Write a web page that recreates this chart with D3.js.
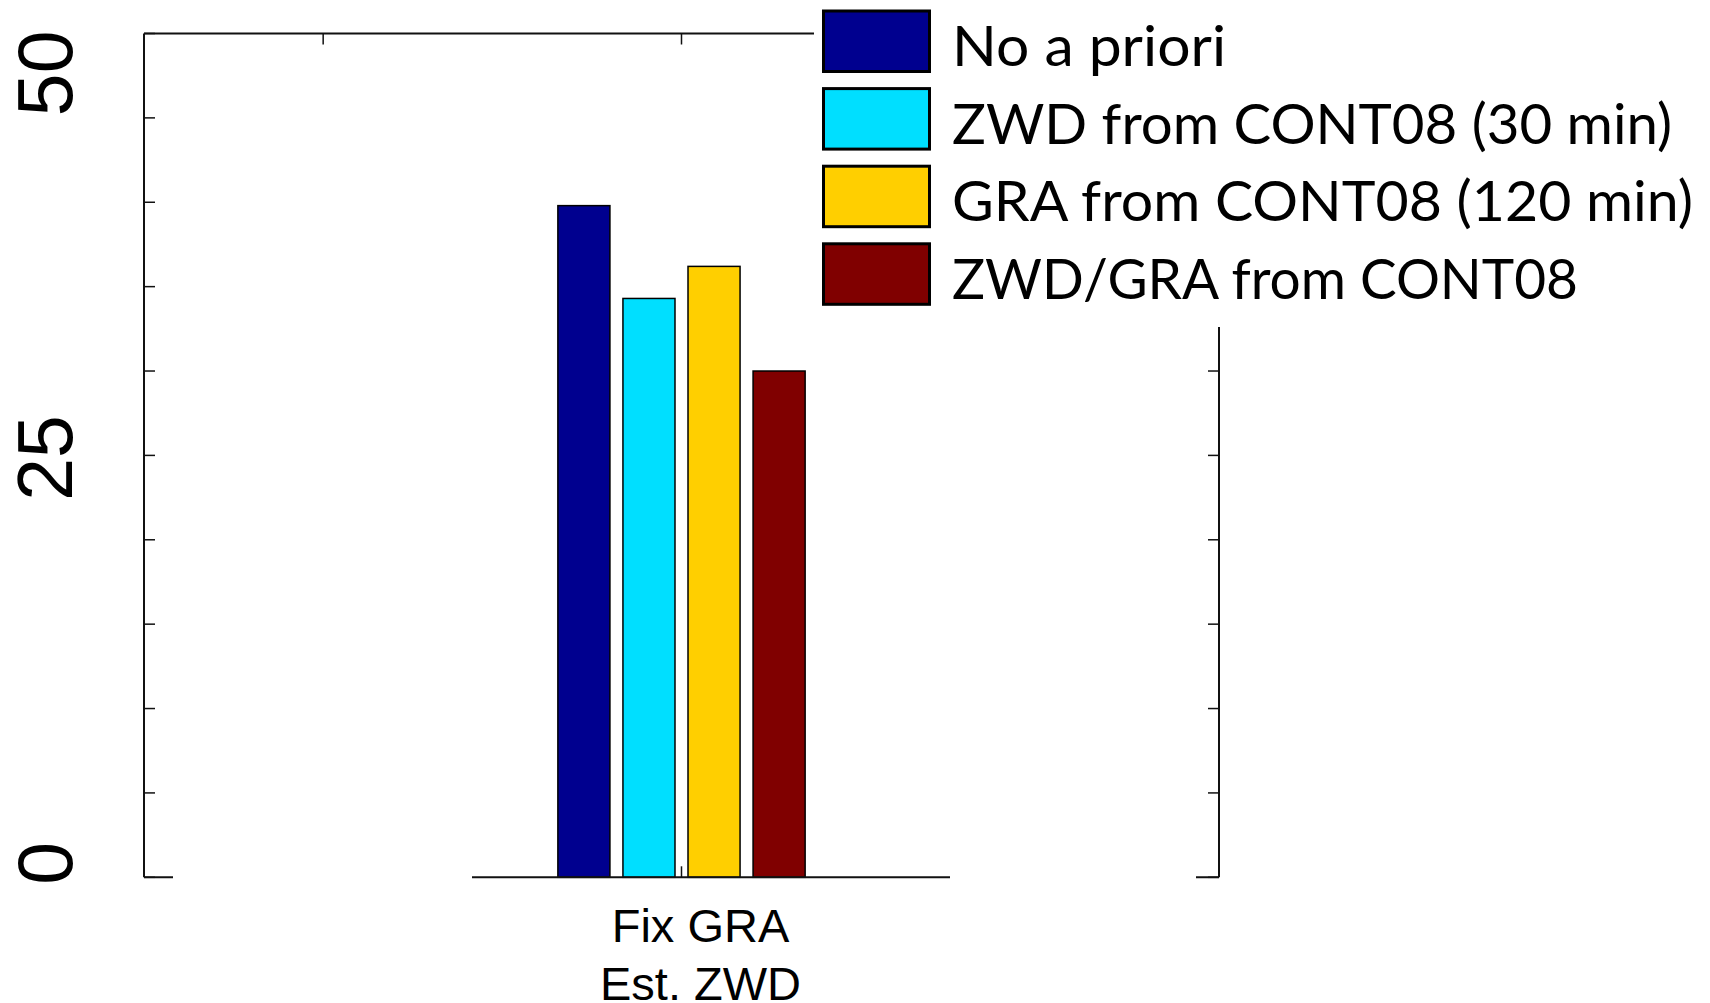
<!DOCTYPE html>
<html>
<head>
<meta charset="utf-8">
<script src="https://cdn.jsdelivr.net/npm/d3@7"></script>
<style>
  html, body { margin: 0; padding: 0; background: #fff; }
  svg { display: block; }
</style>
</head>
<body>
<svg id="chart" width="1710" height="1003"></svg>
<script>
// ---- data ----
const categoryPositions = [2];
const categoryLabels = [["Fix GRA", "Est. ZWD"]];
const seriesNames = [
  "No a priori",
  "ZWD from CONT08 (30 min)",
  "GRA from CONT08 (120 min)",
  "ZWD/GRA from CONT08"
];
const seriesValues = [
  [39.8],
  [34.3],
  [36.2],
  [30.0]
];
const seriesColors = ["#00008f", "#00dfff", "#ffcf00", "#800000"];
const xDomain = [0.5, 3.5];
const xTickValues = [1, 2, 3];
const yDomain = [0, 50];
const yTickValues = [0, 5, 10, 15, 20, 25, 30, 35, 40, 45, 50];
const yTickLabels = [0, 25, 50];

// ---- layout ----
const plot = { left: 144, right: 1219, top: 33.5, bottom: 877.3 };
const svg = d3.select("#chart");

const x = d3.scaleLinear().domain(xDomain).range([plot.left, plot.right]);
const y = d3.scaleLinear().domain(yDomain).range([plot.bottom, plot.top]);

// grouped bars: four series packed around each category position
const groupWidth = 0.69;
const inner = d3.scaleBand()
  .domain(d3.range(seriesNames.length))
  .paddingInner(0.2)
  .paddingOuter(0);

const bars = svg.append("g");
categoryPositions.forEach((pos, ci) => {
  inner.range([x(pos - groupWidth / 2), x(pos + groupWidth / 2)]);
  bars.selectAll(null)
    .data(seriesValues.map((vals, si) => ({ si, v: vals[ci] })))
    .join("rect")
    .attr("x", d => inner(d.si))
    .attr("width", inner.bandwidth())
    .attr("y", d => y(d.v))
    .attr("height", d => y(0) - y(d.v))
    .attr("fill", d => seriesColors[d.si])
    .attr("stroke", "#000")
    .attr("stroke-width", 1.5);
});

// ---- axes frame (box with inward ticks) ----
const axisColor = "#111";
const tickLen = 11;

const frame = svg.append("g").attr("fill", "none").attr("stroke", axisColor);
frame.append("line").attr("x1", plot.left).attr("x2", plot.right)
  .attr("y1", y(yDomain[1])).attr("y2", y(yDomain[1])).attr("stroke-width", 2.2);
frame.append("line").attr("x1", plot.left).attr("x2", plot.right)
  .attr("y1", y(0)).attr("y2", y(0)).attr("stroke-width", 2);
frame.append("line").attr("x1", x(xDomain[0])).attr("x2", x(xDomain[0]))
  .attr("y1", plot.top).attr("y2", plot.bottom).attr("stroke-width", 2);
frame.append("line").attr("x1", x(xDomain[1])).attr("x2", x(xDomain[1]))
  .attr("y1", plot.top).attr("y2", plot.bottom).attr("stroke-width", 2);

// y ticks on both sides
yTickValues.forEach(v => {
  frame.append("line").attr("x1", plot.left).attr("x2", plot.left + tickLen)
    .attr("y1", y(v)).attr("y2", y(v)).attr("stroke-width", 1.5);
  frame.append("line").attr("x1", plot.right - tickLen).attr("x2", plot.right)
    .attr("y1", y(v)).attr("y2", y(v)).attr("stroke-width", 1.5);
});
// x ticks top and bottom
xTickValues.forEach(v => {
  frame.append("line").attr("x1", x(v)).attr("x2", x(v))
    .attr("y1", plot.top).attr("y2", plot.top + tickLen).attr("stroke-width", 1.5);
  frame.append("line").attr("x1", x(v)).attr("x2", x(v))
    .attr("y1", plot.bottom - tickLen).attr("y2", plot.bottom).attr("stroke-width", 1.5);
});

// blank label boxes sitting over the lower axis
svg.append("rect").attr("x", 173).attr("y", 862).attr("width", 299).attr("height", 30).attr("fill", "#fff");
svg.append("rect").attr("x", 950).attr("y", 862).attr("width", 246).attr("height", 30).attr("fill", "#fff");

// ---- y tick labels (rotated) ----
const yLab = svg.append("g")
  .attr("font-family", "'Liberation Sans', Arial, sans-serif")
  .attr("font-size", 77)
  .attr("fill", "#000");
const anchorFor = v => v === yDomain[0] ? "start" : (v === yDomain[1] ? "end" : "middle");
const shiftFor = v => v === yDomain[0] ? 7.5 : (v === yDomain[1] ? -3 : 2.5);
yTickLabels.forEach(v => {
  yLab.append("text")
    .attr("transform", `translate(71.5,${y(v) + shiftFor(v)}) rotate(-90)`)
    .attr("text-anchor", anchorFor(v))
    .text(v);
});

// ---- category labels ----
const xLab = svg.append("g")
  .attr("font-family", "'Liberation Sans', Arial, sans-serif")
  .attr("font-size", 47)
  .attr("fill", "#000")
  .attr("text-anchor", "middle");
categoryPositions.forEach((pos, ci) => {
  categoryLabels[ci].forEach((line, li) => {
    xLab.append("text")
      .attr("x", x(pos) + 19)
      .attr("y", 941.5 + li * 58)
      .text(line);
  });
});

// ---- legend ----
const legend = svg.append("g");
legend.append("rect").attr("x", 814).attr("y", 0).attr("width", 896).attr("height", 327).attr("fill", "#fff");
const legendRowTop = 11, legendPitch = 77.6, swatchW = 106, swatchH = 60.5, swatchX = 823.5;
const legendTextEnds = [1226, 1672, 1693, 1578];
const legendTextX = 952;
seriesNames.forEach((name, i) => {
  const top = legendRowTop + i * legendPitch;
  legend.append("rect")
    .attr("x", swatchX).attr("y", top)
    .attr("width", swatchW).attr("height", swatchH)
    .attr("fill", seriesColors[i])
    .attr("stroke", "#000").attr("stroke-width", 3);
  legend.append("text")
    .attr("x", legendTextX)
    .attr("y", top + swatchH / 2 + 25)
    .attr("font-family", "Lato, 'Open Sans', sans-serif")
    .attr("font-size", 56)
    .attr("fill", "#000")
    .attr("textLength", legendTextEnds[i] - legendTextX)
    .attr("lengthAdjust", "spacingAndGlyphs")
    .text(name);
});
</script>
</body>
</html>
